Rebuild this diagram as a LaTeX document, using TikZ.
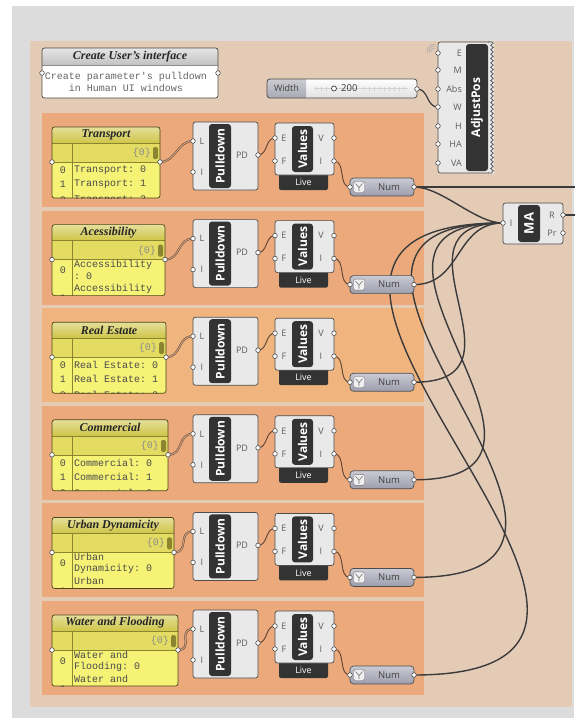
\documentclass[tikz,border=0pt]{standalone}
\usepackage{fontspec}
\setmainfont{Liberation Serif}
\setsansfont{Open Sans}
\setmonofont{Liberation Mono}
\usetikzlibrary{positioning,decorations.pathmorphing}
\definecolor{canvas}{HTML}{DCDCDC}
\definecolor{outergrp}{HTML}{E4CBB6}
\definecolor{rowgrp}{HTML}{ECAA7C}
\definecolor{rowgrplt}{HTML}{F0B57E}
\definecolor{compfill}{HTML}{E9E9E9}
\definecolor{compedge}{HTML}{4D4D4D}
\definecolor{capsdark}{HTML}{333333}
\definecolor{portlbl}{HTML}{5C5C5C}
\definecolor{panelbody}{HTML}{F5F276}
\definecolor{panelhead}{HTML}{CFC548}
\definecolor{panelbar}{HTML}{E3DB62}
\definecolor{panelrim}{HTML}{8C8530}
\definecolor{paneltext}{HTML}{4A4A4A}
\definecolor{numtop}{HTML}{CACAD4}
\definecolor{numbot}{HTML}{9D9DAD}
\definecolor{slidergray}{HTML}{A9A9B4}
\definecolor{wiregray}{HTML}{3B3B3B}
\definecolor{wirebrown}{HTML}{5E4232}
\definecolor{listfill}{HTML}{C89C7C}
\pgfdeclarelayer{back}
\pgfdeclarelayer{wires}
\pgfsetlayers{back,wires,main}

\begin{document}
\begin{tikzpicture}[x=1pt, y=-1pt, font=\sffamily,
    box/.style={draw=compedge, fill=compfill, line width=0.7pt,
                rounded corners=2.5pt, anchor=north west,
                inner sep=0pt, outer sep=0pt},
    capstext/.style={rotate=90, text=white, inner sep=0pt,
                     font=\sffamily\bfseries\fontsize{12}{12}\selectfont},
    plbl/.style={text=portlbl, inner sep=0pt,
                 font=\sffamily\fontsize{9}{10}\selectfont},
    port/.style={circle, draw=compedge, fill=white, line width=0.6pt,
                 minimum size=4.6pt, inner sep=0pt},
    wire/.style={draw=wiregray, line width=1.4pt},
    thinwire/.style={draw=wirebrown, line width=0.9pt},
    listwire/.style={draw=wirebrown, line width=0.45pt,
                     double=listfill, double distance=1.1pt},
    mono/.style={text=paneltext, inner sep=0pt,
                 font=\ttfamily\fontsize{10}{12}\selectfont},
    headtxt/.style={text=black!85, inner sep=0pt,
                    font=\rmfamily\bfseries\itshape\fontsize{12}{12}\selectfont}
  ]
  \useasboundingbox (0,0) rectangle (574,718);

  \begin{pgfonlayer}{back}
    \fill[white] (0,0) rectangle (574,718);
    \fill[canvas] (12,6) rectangle (574,718);
    \fill[outergrp] (30,41) rectangle (572,707);
  \end{pgfonlayer}

  % note panel at the top left
  \begin{scope}
    \clip[rounded corners=2.5pt] (42,48) rectangle (218,98);
    \fill[white] (42,48) rectangle (218,98);
    \fill[top color=black!10, bottom color=black!24] (42,48) rectangle (218,65);
    \draw[black!45, line width=0.5pt] (42,65) -- (218,65);
  \end{scope}
  \node[box, fill=none, minimum width=176pt, minimum height=50pt] (note) at (42,48) {};
  \node[headtxt] (notettl) at (130,56.5) {Create User's interface};
  \node[mono, text=black!60, align=center] (notetxt) at (126,82)
    {Create parameter's pulldown\\in Human UI windows};
  \node[port] (notein) at (42,73) {};
  \node[port] (noteout) at (218,73) {};

  % number slider
  \begin{scope}
    \clip[rounded corners=3pt] (267,79) rectangle (417,98);
    \fill[top color=white, bottom color=black!12] (267,79) rectangle (417,98);
    \fill[top color=slidergray!60!white, bottom color=slidergray] (267,79) rectangle (306,98);
  \end{scope}
  \node[box, fill=none, minimum width=150pt, minimum height=19pt,
        rounded corners=3pt] (slider) at (267,79) {};
  \node[text=black!75, inner sep=0pt, font=\sffamily\fontsize{9}{10}\selectfont]
    (sliderlbl) at (286.5,88.5) {Width};
  \draw[black!18, line width=0.5pt] (314,88.5) -- (408,88.5);
  \foreach \x in {316,321,326,364,369,...,406}
    \draw[black!18, line width=0.4pt] (\x,86.5) -- (\x,90.5);
  \node[circle, draw=black!75, fill=white, line width=0.7pt, minimum size=5pt,
        inner sep=0pt] (knob) at (334,88.5) {};
  \node[text=black!80, inner sep=0pt, anchor=west,
        font=\sffamily\fontsize{9.5}{10}\selectfont] (sliderval) at (341,88.5) {200};
  \node[port] (slout) at (417,89) {};

  % AdjustPos component with hidden outputs
  \node[box, minimum width=54pt, minimum height=131pt] (adjust) at (438,42) {};
  \fill[compfill] (488.5,41.5) rectangle (494,173.5);
  \draw[compedge, line width=0.7pt] (488,42) -- (492,42)
    decorate[decoration={zigzag, segment length=4.4pt, amplitude=1.3pt}] {-- (492,173)}
    -- (488,173);
  \fill[capsdark, rounded corners=3pt] (466,44) rectangle (488,171);
  \node[capstext] (adjustlbl) at (477,107.5) {AdjustPos};
  \foreach \lb/\yy in {E/53,M/70,Abs/89,W/107,H/126,HA/144,VA/163}{
    \node[port] (adj\lb) at (438,\yy) {};
    \node[plbl, anchor=east] (adjlbl\lb) at (462,\yy) {\lb};
  }
  \foreach \r in {4,6,8}
    \draw[black!35, line width=0.5pt] (435,52) ++(170:\r) arc[start angle=170, end angle=275, radius=\r];

  % MA component
  \node[box, minimum width=60pt, minimum height=41pt] (ma) at (503,203) {};
  \fill[capsdark, rounded corners=3pt] (518,205) rectangle (540,242);
  \node[capstext, font=\sffamily\bfseries\fontsize{13}{13}\selectfont] (malbl) at (529,223.5) {MA};
  \node[port] (maI) at (503,223) {};
  \node[plbl] (maIlbl) at (511,223) {I};
  \node[port] (maR) at (563,215) {};
  \node[plbl] (maRlbl) at (552,215) {R};
  \node[port] (maPr) at (563,233) {};
  \node[plbl] (maPrlbl) at (552,233) {Pr};

  % one group per parameter
  \foreach \i/\pright/\name/\wrap/\la/\lb/\lc in {
      1/160/Transport/0/Transport: 0/Transport: 1/Transport: 2,
      2/165/Acessibility/1/Accessibility/: 0/Accessibility,
      3/166/Real Estate/0/Real Estate: 0/Real Estate: 1/Real Estate: 2,
      4/168/Commercial/0/Commercial: 0/Commercial: 1/Commercial: 2,
      5/174/Urban Dynamicity/1/Urban/Dynamicity: 0/Urban,
      6/178/Water and Flooding/1/Water and/Flooding: 0/Water and}{
    \pgfmathsetmacro\rowtop{113+97.6*(\i-1)}
    \pgfmathsetmacro\reach{max(26,0.78*abs(\rowtop+74-223))}
    \pgfmathsetmacro\pw{\pright-52}
    \ifnum\i=3 \def\gc{rowgrplt}\else\def\gc{rowgrp}\fi
    \begin{pgfonlayer}{back}
      \fill[\gc] (42,\rowtop) rectangle (424,\rowtop+94);
    \end{pgfonlayer}

    % yellow panel
    \begin{scope}
      \clip[rounded corners=2.5pt] (52,\rowtop+14) rectangle (\pright,\rowtop+85);
      \fill[panelbody] (52,\rowtop+14) rectangle (\pright,\rowtop+85);
      \fill[top color=panelhead!55!white, bottom color=panelhead]
        (52,\rowtop+14) rectangle (\pright,\rowtop+30);
      \fill[panelbar] (52,\rowtop+30) rectangle (\pright,\rowtop+49);
      \draw[panelrim, line width=0.4pt] (52,\rowtop+30) -- (\pright,\rowtop+30)
        (52,\rowtop+49) -- (\pright,\rowtop+49) (72,\rowtop+30) -- (72,\rowtop+85);
      \fill[panelrim, rounded corners=1.5pt] (\pright-7,\rowtop+34) rectangle (\pright-2,\rowtop+46);
      \node[mono, text=black!45, anchor=east] (brace\i) at (\pright-9,\rowtop+40) {\{0\}};
      \ifnum\wrap=0
        \node[mono] (idxa\i) at (63,\rowtop+57) {0};
        \node[mono] (idxb\i) at (63,\rowtop+71) {1};
        \node[mono] (idxc\i) at (63,\rowtop+87) {2};
        \node[mono, anchor=west] (linea\i) at (74,\rowtop+57) {\la};
        \node[mono, anchor=west] (lineb\i) at (74,\rowtop+71) {\lb};
        \node[mono, anchor=west] (linec\i) at (74,\rowtop+87) {\lc};
      \else
        \node[mono] (idxa\i) at (63,\rowtop+60) {0};
        \node[mono] (idxb\i) at (63,\rowtop+88) {1};
        \node[mono, anchor=west] (linea\i) at (74,\rowtop+54) {\la};
        \node[mono, anchor=west] (lineb\i) at (74,\rowtop+66) {\lb};
        \node[mono, anchor=west] (linec\i) at (74,\rowtop+78) {\lc};
      \fi
    \end{scope}
    \node[box, fill=none, draw=panelrim!55!black, minimum width=\pw pt,
          minimum height=71pt] (panel\i) at (52,\rowtop+14) {};
    \node[headtxt] (ttl\i) at ({(52+\pright)/2},\rowtop+22) {\name};
    \node[port] (pin\i) at (52,\rowtop+49) {};
    \node[port] (pout\i) at (\pright,\rowtop+49) {};

    % Pulldown
    \node[box, minimum width=65pt, minimum height=68pt] (pull\i) at (193,\rowtop+9) {};
    \fill[capsdark, rounded corners=3pt] (209,\rowtop+11) rectangle (231,\rowtop+75);
    \node[capstext] (pulllbl\i) at (220,\rowtop+43) {Pulldown};
    \node[port] (pullL\i) at (193,\rowtop+28) {};
    \node[plbl] (pullLl\i) at (202,\rowtop+28) {L};
    \node[port] (pullI\i) at (193,\rowtop+59) {};
    \node[plbl] (pullIl\i) at (202,\rowtop+59) {I};
    \node[port] (pullO\i) at (258,\rowtop+42) {};
    \node[plbl] (pullOl\i) at (242,\rowtop+42) {PD};

    % Values with its Live bar
    \fill[capsdark, rounded corners=2pt] (279,\rowtop+56) rectangle (328,\rowtop+77);
    \node[plbl, text=white] (live\i) at (303.5,\rowtop+69.5) {Live};
    \node[box, minimum width=59pt, minimum height=52pt] (vals\i) at (275,\rowtop+10) {};
    \fill[capsdark, rounded corners=3pt] (292,\rowtop+13) rectangle (313,\rowtop+59);
    \node[capstext] (valslbl\i) at (302.5,\rowtop+36) {Values};
    \node[port] (valE\i) at (275,\rowtop+25) {};
    \node[plbl] (valEl\i) at (284,\rowtop+25) {E};
    \node[port] (valF\i) at (275,\rowtop+48) {};
    \node[plbl] (valFl\i) at (284,\rowtop+48) {F};
    \node[port] (valV\i) at (334,\rowtop+25) {};
    \node[plbl] (valVl\i) at (321,\rowtop+25) {V};
    \node[port] (valI\i) at (334,\rowtop+48) {};
    \node[plbl] (valIl\i) at (321,\rowtop+48) {I};

    % Num parameter
    \node[box, top color=numtop, bottom color=numbot, minimum width=64pt,
          minimum height=18pt, rounded corners=3.5pt] (num\i) at (350,\rowtop+65) {};
    \node[draw=black!55, fill=black!6, rounded corners=1.5pt, minimum size=11pt,
          inner sep=0pt] (numicon\i) at (359,\rowtop+74) {};
    \draw[black!55, line width=0.6pt] (355.5,\rowtop+70.5) -- (359,\rowtop+74.5)
      -- (362.5,\rowtop+70.5) (359,\rowtop+74.5) -- (359,\rowtop+78);
    \node[plbl, text=black!75, font=\sffamily\fontsize{9.5}{10}\selectfont]
      (numlbl\i) at (389,\rowtop+74) {Num};
    \node[port] (numI\i) at (350,\rowtop+74) {};
    \node[port] (numO\i) at (414,\rowtop+74) {};

    \begin{pgfonlayer}{wires}
      \draw[listwire] (pout\i.center) .. controls +(16,0) and +(-16,0) .. (pullL\i.center);
      \draw[thinwire] (pullO\i.center) .. controls +(10,0) and +(-10,0) .. (valE\i.center);
      \draw[thinwire] (valI\i.center) .. controls +(12,0) and +(-12,0) .. (numI\i.center);
      \draw[wire] (numO\i.center) .. controls +(\reach,0) and +(-\reach,0) .. (maI.center);
    \end{pgfonlayer}
  }

  \coordinate (eastA) at (576,187);
  \coordinate (eastB) at (576,215);
  \begin{pgfonlayer}{wires}
    \draw[wire, line width=1.2pt] (slout.center) .. controls +(12,0) and +(-12,0) .. (adjW.center);
    \draw[wire] (numO1.center) -- (eastA);
    \draw[wire] (maR.center) -- (eastB);
  \end{pgfonlayer}
\end{tikzpicture}
\end{document}
